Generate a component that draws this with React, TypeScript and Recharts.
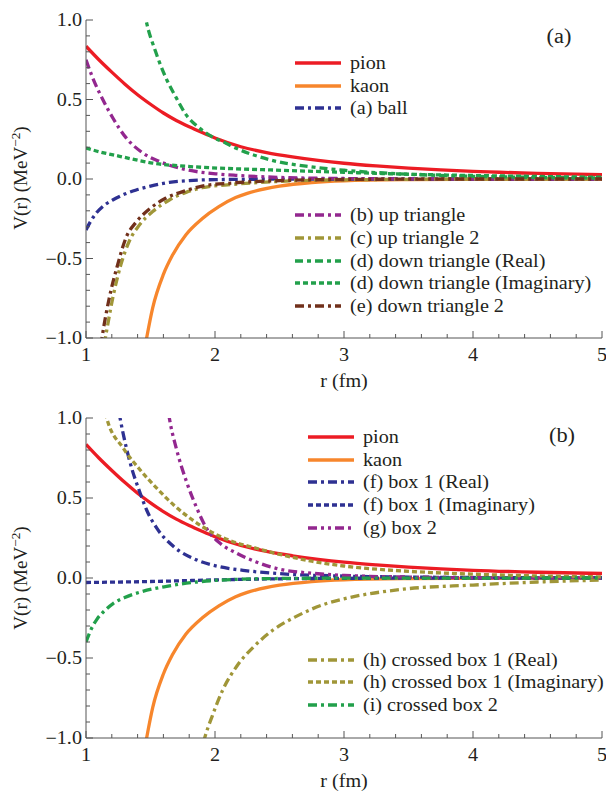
import React from 'react';
import { LineChart, Line, XAxis, YAxis } from 'recharts';

const FONT = '"Liberation Serif", "Times New Roman", Times, serif';
const SX = 1.12;
const TEXT = '#231f20';
const AXIS = '#555555';

// ---------- tick values ----------
const xTicks = [1, 1.2, 1.4, 1.6, 1.8, 2, 2.2, 2.4, 2.6, 2.8, 3, 3.2, 3.4, 3.6, 3.8, 4, 4.2, 4.4, 4.6, 4.8, 5];
const yTicks = [-1, -0.9, -0.8, -0.7, -0.6, -0.5, -0.4, -0.3, -0.2, -0.1, 0, 0.1, 0.2, 0.3, 0.4, 0.5, 0.6, 0.7, 0.8, 0.9, 1];

// ---------- series values [r (fm), V] ----------
const pion = [[1.0, 0.835], [1.1, 0.75], [1.2, 0.672], [1.3, 0.598], [1.4, 0.53], [1.5, 0.47], [1.6, 0.415], [1.7, 0.368], [1.8, 0.328], [1.9, 0.292], [2.0, 0.258], [2.2, 0.203], [2.4, 0.166], [2.6, 0.139], [2.8, 0.117], [3.0, 0.099], [3.25, 0.082], [3.5, 0.068], [3.75, 0.057], [4.0, 0.048], [4.5, 0.036], [5.0, 0.028]];
const kaon = [[1.45, -1.09], [1.47, -1.0], [1.517, -0.81], [1.6, -0.6], [1.67, -0.48], [1.775, -0.35], [1.9, -0.25], [2.03, -0.174], [2.16, -0.117], [2.25, -0.09], [2.5, -0.045], [2.75, -0.022], [3.0, -0.011], [3.5, -0.004], [4.0, -0.002], [5.0, 0]];
const ball = [[1.0, -0.32], [1.04, -0.26], [1.078, -0.216], [1.15, -0.16], [1.207, -0.132], [1.3, -0.095], [1.39, -0.069], [1.5, -0.045], [1.646, -0.021], [1.8, -0.01], [2.0, -0.004], [2.5, -0.001], [3.0, 0], [5.0, 0]];
const upTriangle = [[1.0, 0.75], [1.05, 0.64], [1.13, 0.5], [1.207, 0.385], [1.31, 0.26], [1.44, 0.164], [1.57, 0.11], [1.775, 0.059], [2.03, 0.031], [2.16, 0.023], [2.5, 0.01], [3.0, 0.003], [3.5, 0.001], [4.0, 0], [5.0, 0]];
const upTriangle2 = [[1.14, -1.045], [1.15, -1.0], [1.207, -0.75], [1.27, -0.54], [1.336, -0.39], [1.413, -0.29], [1.517, -0.205], [1.646, -0.132], [1.775, -0.084], [1.9, -0.055], [2.137, -0.034], [2.5, -0.015], [3.0, -0.005], [3.5, -0.002], [4.0, 0], [5.0, 0]];
const downTriangleRe = [[1.45, 1.06], [1.465, 1.0], [1.54, 0.8], [1.62, 0.635], [1.7, 0.51], [1.775, 0.405], [1.88, 0.32], [1.98, 0.265], [2.085, 0.225], [2.16, 0.195], [2.43, 0.12], [2.74, 0.077], [3.0, 0.055], [3.5, 0.03], [4.0, 0.017], [4.5, 0.01], [5.0, 0.006]];
const downTriangleIm = [[1.0, 0.195], [1.1, 0.172], [1.26, 0.143], [1.4, 0.118], [1.517, 0.1], [1.775, 0.08], [2.137, 0.065], [2.43, 0.057], [3.0, 0.042], [3.5, 0.03], [4.0, 0.022], [4.5, 0.016], [5.0, 0.011]];
const downTriangle2 = [[1.115, -1.05], [1.124, -1.0], [1.18, -0.75], [1.245, -0.54], [1.31, -0.37], [1.39, -0.27], [1.49, -0.19], [1.62, -0.12], [1.775, -0.073], [1.9, -0.045], [2.137, -0.025], [2.5, -0.01], [3.0, -0.003], [4.0, 0], [5.0, 0]];

const box1Re = [[1.255, 1.04], [1.264, 1.0], [1.34, 0.727], [1.42, 0.53], [1.47, 0.425], [1.55, 0.31], [1.68, 0.196], [1.86, 0.112], [2.04, 0.07], [2.25, 0.045], [2.5, 0.027], [3.0, 0.012], [3.5, 0.006], [4.0, 0.003], [5.0, 0.001]];
const box1Im = [[1.0, -0.028], [1.5, -0.022], [2.0, -0.012], [2.5, -0.005], [3.0, -0.002], [4.0, 0], [5.0, 0]];
const box2 = [[1.64, 1.03], [1.646, 1.0], [1.7, 0.81], [1.78, 0.6], [1.86, 0.435], [1.935, 0.31], [2.04, 0.217], [2.17, 0.154], [2.32, 0.1], [2.5, 0.055], [2.75, 0.03], [3.0, 0.016], [3.5, 0.006], [4.0, 0.002], [5.0, 0]];
const crossedBox1Re = [[1.91, -1.03], [1.92, -1.0], [1.98, -0.86], [2.06, -0.7], [2.17, -0.55], [2.3, -0.43], [2.45, -0.325], [2.63, -0.24], [2.87, -0.158], [3.0, -0.13], [3.46, -0.07], [4.0, -0.044], [4.5, -0.025], [5.0, -0.013]];
const crossedBox1Im = [[1.15, 1.03], [1.16, 1.0], [1.29, 0.81], [1.42, 0.675], [1.55, 0.56], [1.68, 0.456], [1.83, 0.36], [1.99, 0.28], [2.14, 0.227], [2.32, 0.186], [2.5, 0.148], [2.75, 0.105], [3.0, 0.075], [3.5, 0.042], [4.0, 0.024], [4.5, 0.013], [5.0, 0.007]];
const crossedBox2 = [[1.0, -0.4], [1.04, -0.32], [1.083, -0.26], [1.15, -0.2], [1.21, -0.16], [1.3, -0.122], [1.42, -0.088], [1.625, -0.052], [1.86, -0.025], [2.12, -0.01], [2.5, -0.003], [3.0, -0.001], [5.0, 0]];

// ---------- styles ----------
const RED = '#ec1c24';
const ORANGE = '#f7862c';
const BLUE = '#2e3192';
const PURPLE = '#93278f';
const OLIVE = '#a09638';
const GREEN = '#22a04b';
const BROWN = '#71301b';

const DASHDOT = '9 4 3 4';
const DASHDOTDOT = '9 4 3 4 3 4';
const DOTTED = '5 3';
const DASHED = '8 4 4 4';
const LW = 3.3;

type Series = { name: string; data: number[][]; color: string; dash?: string };

const seriesA: Series[] = [
  { name: 'pion', data: pion, color: RED },
  { name: 'kaon', data: kaon, color: ORANGE },
  { name: '(a) ball', data: ball, color: BLUE, dash: DASHDOT },
  { name: '(b) up triangle', data: upTriangle, color: PURPLE, dash: DASHDOT },
  { name: '(c) up triangle 2', data: upTriangle2, color: OLIVE, dash: DASHDOT },
  { name: '(d) down triangle (Real)', data: downTriangleRe, color: GREEN, dash: DASHED },
  { name: '(d) down triangle (Imaginary)', data: downTriangleIm, color: GREEN, dash: DOTTED },
  { name: '(e) down triangle 2', data: downTriangle2, color: BROWN, dash: DASHDOT },
];

const seriesB: Series[] = [
  { name: 'pion', data: pion, color: RED },
  { name: 'kaon', data: kaon, color: ORANGE },
  { name: '(f) box 1 (Real)', data: box1Re, color: BLUE, dash: DASHDOT },
  { name: '(f) box 1 (Imaginary)', data: box1Im, color: BLUE, dash: DOTTED },
  { name: '(g) box 2', data: box2, color: PURPLE, dash: DASHDOTDOT },
  { name: '(h) crossed box 1 (Real)', data: crossedBox1Re, color: OLIVE, dash: DASHDOT },
  { name: '(h) crossed box 1 (Imaginary)', data: crossedBox1Im, color: OLIVE, dash: DOTTED },
  { name: '(i) crossed box 2', data: crossedBox2, color: GREEN, dash: DASHDOT },
];

const toRows = (d: number[][]) => d.map(([r, v]) => ({ r, v }));

const XTick = (props: any) => {
  const { x, y, payload } = props;
  const v = payload.value as number;
  const major = Math.abs(v - Math.round(v)) < 1e-6;
  const len = major ? 7 : 4;
  return (
    <g>
      <line x1={x} x2={x} y1={y} y2={y - len} stroke={AXIS} strokeWidth={1} />
      {major && (
        <text transform={`translate(${x},${y + 23}) scale(${SX},1)`} textAnchor="middle" fontFamily={FONT} fontSize={18} fill={TEXT}>
          {String(Math.round(v))}
        </text>
      )}
    </g>
  );
};

const YTick = (props: any) => {
  const { x, y, payload } = props;
  const v = payload.value as number;
  const major = Math.abs(v * 2 - Math.round(v * 2)) < 1e-6;
  const len = major ? 7 : 4;
  let label = (Math.round(v * 10) / 10).toFixed(1);
  if (label === '-0.0') label = '0.0';
  label = label.replace('-', '\u2212');
  return (
    <g>
      <line x1={x} x2={x + len} y1={y} y2={y} stroke={AXIS} strokeWidth={1} />
      {major && (
        <text transform={`translate(${x - 4},${y}) scale(${SX},1)`} textAnchor="end" dy="0.34em" fontFamily={FONT} fontSize={18} fill={TEXT}>
          {label}
        </text>
      )}
    </g>
  );
};

const Panel = ({ series, top }: { series: Series[]; top: number }) => (
  <div style={{ position: 'absolute', left: 0, top }}>
    <LineChart width={606} height={400} margin={{ top: 20, right: 4, left: 0, bottom: 0 }}>
      <XAxis
        dataKey="r"
        type="number"
        domain={[1, 5]}
        ticks={xTicks}
        interval={0}
        allowDataOverflow
        height={top === 0 ? 62 : 60}
        tickSize={0}
        tickMargin={0}
        tickLine={false}
        axisLine={{ stroke: AXIS, strokeWidth: 1 }}
        tick={XTick}
      />
      <YAxis
        type="number"
        domain={[-1, 1]}
        ticks={yTicks}
        interval={0}
        allowDataOverflow
        width={86}
        tickSize={0}
        tickMargin={0}
        tickLine={false}
        axisLine={{ stroke: AXIS, strokeWidth: 1 }}
        tick={YTick}
      />
      {series.map((s) => (
        <Line
          key={s.name}
          data={toRows(s.data)}
          dataKey="v"
          type="monotone"
          dot={false}
          activeDot={false}
          stroke={s.color}
          strokeWidth={LW}
          strokeDasharray={s.dash}
          isAnimationActive={false}
        />
      ))}
    </LineChart>
  </div>
);

const LegendRow = ({ x, y, s }: { x: number; y: number; s: Series }) => (
  <div style={{ position: 'absolute', left: x, top: y - 12, height: 24, display: 'flex', alignItems: 'center', whiteSpace: 'nowrap' }}>
    <svg width={46} height={8} style={{ display: 'block' }}>
      <line x1={0} y1={4} x2={46} y2={4} stroke={s.color} strokeWidth={LW} strokeDasharray={s.dash} />
    </svg>
    <span style={{ marginLeft: 9, fontFamily: FONT, fontSize: 18, color: TEXT, display: 'inline-block', transform: `scaleX(${SX})`, transformOrigin: 'left center', lineHeight: '24px' }}>
      {s.name}
    </span>
  </div>
);

const CenterText = ({ x, y, size, children, rotate }: { x: number; y: number; size: number; children: React.ReactNode; rotate?: boolean }) => (
  <div
    style={{
      position: 'absolute',
      left: x,
      top: y,
      fontFamily: FONT,
      fontSize: size,
      color: TEXT,
      whiteSpace: 'nowrap',
      lineHeight: 1,
      transform: rotate ? 'translate(-50%,-50%) rotate(-90deg)' : `translate(-50%,-50%) scaleX(${SX})`,
    }}
  >
    {children}
  </div>
);

const YTitle = () => (
  <span>
    V(r) (MeV<span style={{ fontSize: '0.7em', position: 'relative', top: '-0.5em' }}>{'\u22122'}</span>)
  </span>
);

const legendAY = [63, 86, 108, 215, 238, 261, 283, 306];
const legendBY = [437, 460, 482, 505, 528, 660, 682, 705];

export default function App() {
  return (
    <div style={{ position: 'absolute', left: 0, top: 0, width: 606, height: 798, background: '#ffffff', overflow: 'hidden' }}>
      <Panel series={seriesA} top={0} />
      <Panel series={seriesB} top={398} />

      {seriesA.map((s, i) => (
        <LegendRow key={'a' + i} x={295} y={legendAY[i]} s={s} />
      ))}
      {seriesB.map((s, i) => (
        <LegendRow key={'b' + i} x={308} y={legendBY[i]} s={s} />
      ))}

      <CenterText x={559} y={36} size={20}>(a)</CenterText>
      <CenterText x={562} y={435} size={20}>(b)</CenterText>

      <CenterText x={344} y={381} size={18}>r (fm)</CenterText>
      <CenterText x={344} y={781} size={18}>r (fm)</CenterText>

      <CenterText x={20} y={178} size={19} rotate><YTitle /></CenterText>
      <CenterText x={20} y={578} size={19} rotate><YTitle /></CenterText>
    </div>
  );
}
